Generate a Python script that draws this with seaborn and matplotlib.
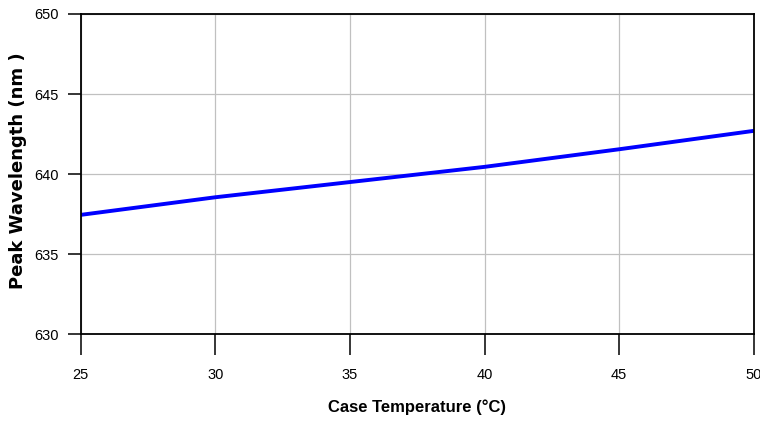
import matplotlib
matplotlib.use("Agg")
import matplotlib.pyplot as plt
import seaborn as sns
import pandas as pd

# Peak wavelength vs case temperature
case_temp = [25, 30, 35, 40, 45, 50]
peak_wavelength = [637.45, 638.55, 639.5, 640.45, 641.55, 642.7]

x_ticks = [25, 30, 35, 40, 45, 50]
y_ticks = [630, 635, 640, 645, 650]

df = pd.DataFrame({"temp": case_temp, "wl": peak_wavelength})

sns.set_theme(style="white")
plt.rcParams['font.family'] = ['Liberation Sans', 'DejaVu Sans']
plt.rcParams['text.color'] = 'black'
plt.rcParams['axes.labelcolor'] = 'black'
plt.rcParams['xtick.color'] = 'black'
plt.rcParams['ytick.color'] = 'black'

fig, ax = plt.subplots(figsize=(7.6, 4.23), dpi=100)
fig.subplots_adjust(left=0.106, right=0.992, top=0.967, bottom=0.21)

sns.lineplot(data=df, x="temp", y="wl", ax=ax, color="#0000ff", linewidth=2.8)

ax.set_xlim(25, 50)
ax.set_ylim(630, 650)
ax.set_xticks(x_ticks)
ax.set_yticks(y_ticks)
ax.grid(True, color="#c0c0c0", linewidth=0.9)
ax.set_axisbelow(True)

for side in ["left", "right", "top", "bottom"]:
    ax.spines[side].set_color("black")
    ax.spines[side].set_linewidth(1.3)

ax.tick_params(axis="x", direction="out", length=15, width=1.1,
               labelsize=10.5, pad=9, bottom=True)
ax.tick_params(axis="y", direction="out", length=9.5, width=1.1,
               labelsize=10.5, pad=6, left=True)

ax.set_xlabel("Case Temperature (°C)", fontsize=12, fontweight="bold")
ax.set_ylabel("Peak Wavelength (nm )", fontsize=13, fontweight="bold",
              family=["DejaVu Sans"])
ax.xaxis.set_label_coords(0.5, -0.228)
ax.xaxis.label.set_va("center")
ax.yaxis.set_label_coords(-0.093, 0.51)
ax.yaxis.label.set_va("center")

fig.savefig("out.png", dpi=100)
